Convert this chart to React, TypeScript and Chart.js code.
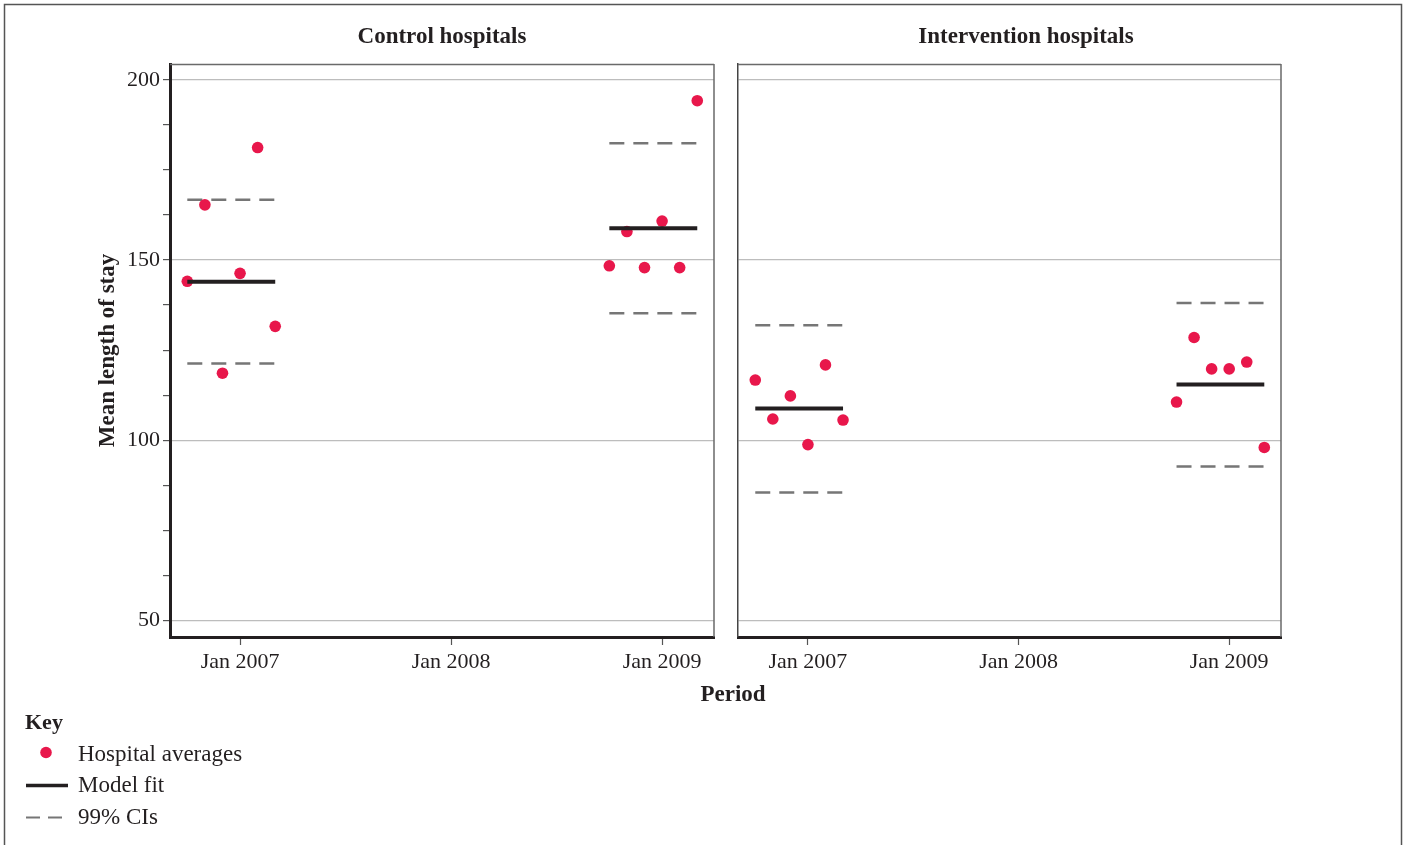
import React, { useEffect, useRef } from 'react';
import { Chart, registerables } from 'chart.js';

Chart.register(...registerables);

const W = 1403;
const H = 845;
const SERIF = '"Liberation Serif", "Times New Roman", serif';
const INK = '#231f20';
const DOT = '#e8174b';
const CI_GRAY = '#767676';
const GRID = '#bdbdbd';
const FRAME = '#6a6a6a';

// ---- texts ----
const panelTitles = ['Control hospitals', 'Intervention hospitals'];
const yAxisTitle = 'Mean length of stay';
const xAxisTitle = 'Period';
const keyTitle = 'Key';
const keyLabels = ['Hospital averages', 'Model fit', '99% CIs'];

// ---- axes ----
const periods = [2007, 2009];
const monthOffsets = [-3, -2, -1, 0, 1, 2];
const xTickYears = [2007, 2008, 2009];
const yLabelTicks = [50, 100, 150, 200];
const yAllTicks = [50, 62.5, 75, 87.5, 100, 112.5, 125, 137.5, 150, 162.5, 175, 187.5, 200];
const X_MIN = 2006.668;
const X_MAX = 2009.246;
const Y_MIN = 45.42;
const Y_MAX = 204.38;

// ---- data: hospital averages ----
const control2007 = [144.1, 165.3, 118.6, 146.3, 181.2, 131.6];
const control2009 = [148.4, 157.9, 147.9, 160.8, 147.9, 194.2];
const intervention2007 = [116.7, 105.9, 112.3, 98.8, 120.9, 105.6];
const intervention2009 = [110.6, 128.5, 119.8, 119.8, 121.7, 98.0];

// ---- data: model fit and 99% CIs (per period: 2007, 2009) ----
const controlFit = [144.0, 158.8];
const controlCiUpper = [166.7, 182.4];
const controlCiLower = [121.3, 135.2];
const interventionFit = [108.8, 115.5];
const interventionCiUpper = [131.9, 138.1];
const interventionCiLower = [85.5, 92.7];

const panelData = [
  { points: [control2007, control2009], fit: controlFit, up: controlCiUpper, lo: controlCiLower },
  { points: [intervention2007, intervention2009], fit: interventionFit, up: interventionCiUpper, lo: interventionCiLower },
];

// ---- layout (pixels) ----
const panelBox = [
  { left: 170, right: 714, titleX: 442 },
  { left: 738, right: 1281, titleX: 1026 },
];
const AREA_TOP = 64;
const AREA_BOTTOM = 637;

function buildDatasets(idx: number) {
  const d = panelData[idx];
  const first = monthOffsets[0];
  const last = monthOffsets[monthOffsets.length - 1];
  const seg = (vals: number[], g: number) => [
    { x: periods[g] + first / 12, y: vals[g] },
    { x: periods[g] + last / 12, y: vals[g] },
  ];
  const ds: any[] = [];
  periods.forEach((_, g) => {
    [d.up, d.lo].forEach((arr) => {
      ds.push({
        data: seg(arr, g),
        showLine: true,
        borderColor: CI_GRAY,
        borderWidth: 2.5,
        borderDash: [15, 9],
        pointRadius: 0,
        order: 3,
        clip: false,
      });
    });
  });
  const pts = d.points.flatMap((vals, g) =>
    vals.map((v, i) => ({ x: periods[g] + monthOffsets[i] / 12, y: v }))
  );
  ds.push({
    data: pts,
    showLine: false,
    pointRadius: 5.8,
    pointBackgroundColor: DOT,
    pointBorderWidth: 0,
    order: 2,
    clip: false,
  });
  periods.forEach((_, g) => {
    ds.push({
      data: seg(d.fit, g),
      showLine: true,
      borderColor: INK,
      borderWidth: 4,
      pointRadius: 0,
      order: 1,
      clip: false,
    });
  });
  return ds;
}

function decorPlugin(idx: number) {
  return {
    id: 'decor' + idx,
    afterDraw(chart: any) {
      const ctx: CanvasRenderingContext2D = chart.ctx;
      const a = chart.chartArea;
      ctx.save();
      // top and right panel frame
      ctx.strokeStyle = FRAME;
      ctx.lineWidth = 1.5;
      ctx.beginPath();
      ctx.moveTo(a.left, a.top + 0.5);
      ctx.lineTo(a.right, a.top + 0.5);
      ctx.moveTo(a.right, a.top);
      ctx.lineTo(a.right, a.bottom);
      ctx.stroke();

      ctx.fillStyle = INK;
      ctx.textBaseline = 'alphabetic';
      ctx.font = `bold 23px ${SERIF}`;
      ctx.textAlign = 'center';
      ctx.fillText(panelTitles[idx], panelBox[idx].titleX, 43);

      if (idx === 0) {
        // outer frame
        ctx.strokeStyle = '#555';
        ctx.lineWidth = 1.5;
        ctx.strokeRect(4.5, 4.5, 1397, 860);

        // y axis title
        ctx.save();
        ctx.translate(113.5, (a.top + a.bottom) / 2);
        ctx.rotate(-Math.PI / 2);
        ctx.textAlign = 'center';
        ctx.font = `bold 23px ${SERIF}`;
        ctx.fillText(yAxisTitle, 0, 0);
        ctx.restore();

        // x axis title
        ctx.textAlign = 'center';
        ctx.font = `bold 23px ${SERIF}`;
        ctx.fillText(xAxisTitle, 733, 701);

        // key
        ctx.textAlign = 'left';
        ctx.font = `bold 22px ${SERIF}`;
        ctx.fillText(keyTitle, 25, 729);

        ctx.font = `23px ${SERIF}`;
        ctx.fillText(keyLabels[0], 78, 761);
        ctx.fillText(keyLabels[1], 78, 792);
        ctx.fillText(keyLabels[2], 78, 824);

        ctx.fillStyle = DOT;
        ctx.beginPath();
        ctx.arc(46, 752.5, 5.8, 0, Math.PI * 2);
        ctx.fill();

        ctx.strokeStyle = INK;
        ctx.lineWidth = 3.5;
        ctx.beginPath();
        ctx.moveTo(26, 785.5);
        ctx.lineTo(68, 785.5);
        ctx.stroke();

        ctx.strokeStyle = CI_GRAY;
        ctx.lineWidth = 2;
        ctx.setLineDash([14, 8]);
        ctx.beginPath();
        ctx.moveTo(26, 817.5);
        ctx.lineTo(66, 817.5);
        ctx.stroke();
        ctx.setLineDash([]);
      }
      ctx.restore();
    },
  };
}

function makeConfig(idx: number) {
  const isLeft = idx === 0;
  const p = panelBox[idx];
  return {
    type: 'scatter',
    data: { datasets: buildDatasets(idx) },
    options: {
      responsive: false,
      animation: false,
      events: [],
      layout: {
        padding: {
          top: AREA_TOP,
          bottom: 0,
          left: isLeft ? 0 : p.left - 12,
          right: W - p.right,
        },
      },
      plugins: {
        legend: { display: false },
        tooltip: { enabled: false },
        title: { display: false },
      },
      scales: {
        x: {
          type: 'linear',
          min: X_MIN,
          max: X_MAX,
          afterBuildTicks: (s: any) => {
            s.ticks = xTickYears.map((v) => ({ value: v }));
          },
          afterFit: (s: any) => {
            s.height = H - AREA_BOTTOM;
          },
          ticks: {
            autoSkip: false,
            maxRotation: 0,
            padding: 4,
            color: INK,
            font: { family: SERIF, size: 22 },
            callback: (v: any) => 'Jan ' + v,
          },
          grid: {
            drawOnChartArea: false,
            drawTicks: true,
            tickLength: 8,
            tickColor: '#555',
            tickWidth: 1.2,
          },
          border: { display: true, color: INK, width: 3 },
        },
        y: {
          type: 'linear',
          min: Y_MIN,
          max: Y_MAX,
          afterBuildTicks: (s: any) => {
            s.ticks = (isLeft ? yAllTicks : yLabelTicks).map((v) => ({ value: v }));
          },
          afterFit: (s: any) => {
            s.width = isLeft ? p.left : 12;
          },
          ticks: {
            display: isLeft,
            autoSkip: false,
            padding: 3,
            color: INK,
            font: { family: SERIF, size: 22 },
            callback: (v: any) => (yLabelTicks.includes(v) ? String(v) : ''),
          },
          grid: {
            drawTicks: isLeft,
            tickLength: 7,
            tickColor: '#555',
            tickWidth: 1.2,
            lineWidth: 1.2,
            color: (c: any) =>
              c.tick && yLabelTicks.includes(c.tick.value) ? GRID : 'rgba(0,0,0,0)',
          },
          border: isLeft
            ? { display: true, color: INK, width: 3 }
            : { display: true, color: '#444', width: 1.5 },
        },
      },
    },
    plugins: [decorPlugin(idx)],
  };
}

export default function App() {
  const ref0 = useRef<HTMLCanvasElement>(null);
  const ref1 = useRef<HTMLCanvasElement>(null);
  useEffect(() => {
    const charts = [ref0, ref1].map((r, i) => new Chart(r.current as HTMLCanvasElement, makeConfig(i) as any));
    return () => charts.forEach((c) => c.destroy());
  }, []);
  const cs: React.CSSProperties = { position: 'absolute', left: 0, top: 0, width: W, height: H };
  return (
    <div style={{ position: 'absolute', left: 0, top: 0, width: W, height: H, background: '#fff', overflow: 'hidden' }}>
      <canvas ref={ref0} width={W} height={H} style={cs} />
      <canvas ref={ref1} width={W} height={H} style={cs} />
    </div>
  );
}
